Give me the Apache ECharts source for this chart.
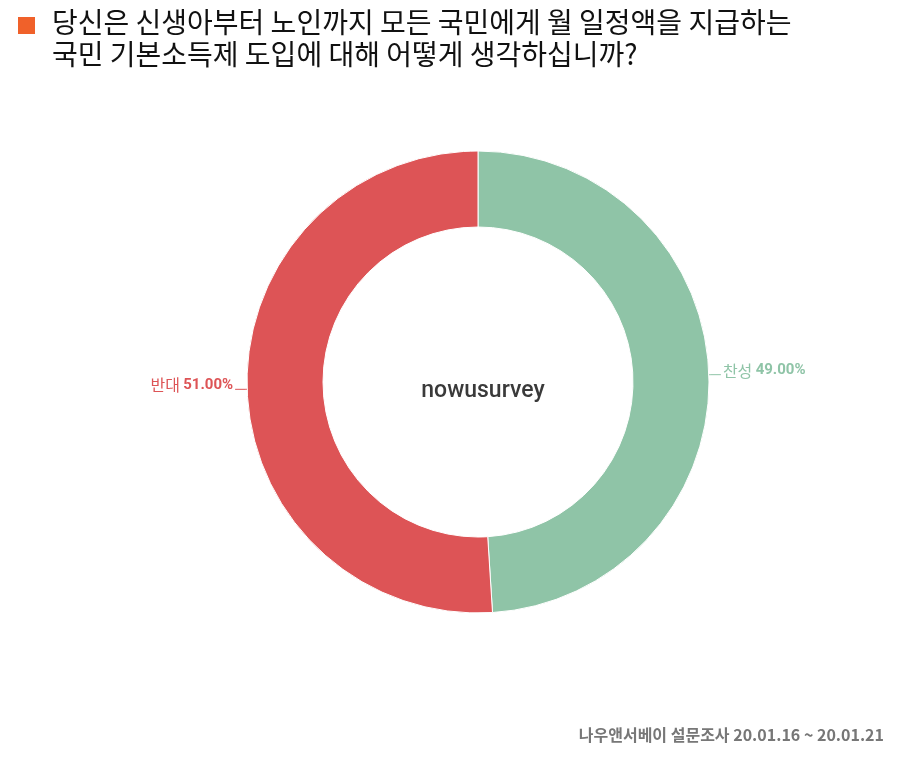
<!DOCTYPE html>
<html><head><meta charset="utf-8">
<script src="https://cdn.jsdelivr.net/npm/echarts@6/dist/echarts.min.js"></script>
<style>html,body{margin:0;padding:0;background:#fff}#c{width:903px;height:757px}</style>
</head><body><div id="c"></div>
<script>
const categories = ['찬성', '반대'];
const values = [49.00, 51.00];
const colors = ['#8fc4a7', '#dd5456'];
const titleLines = ['당신은 신생아부터 노인까지 모든 국민에게 월 일정액을 지급하는', '국민 기본소득제 도입에 대해 어떻게 생각하십니까?'];
const centerText = 'nowusurvey';
const footer = '나우앤서베이 설문조사 20.01.16 ~ 20.01.21';

const chart = echarts.init(document.getElementById('c'));
const font = '"Noto Sans CJK KR", "Noto Sans", sans-serif';
chart.setOption({
  animation: false,
  graphic: [
    {type: 'rect', shape: {x: 18, y: 17, width: 17, height: 17}, style: {fill: '#f0612a'}},
    {type: 'text', left: 52, top: 8, style: {text: titleLines[0], font: '28px ' + font, fill: '#111'}},
    {type: 'text', left: 52, top: 40, style: {text: titleLines[1], font: '28px ' + font, fill: '#111'}},
    {type: 'text', right: 19, top: 727, style: {text: footer, font: 'bold 16px ' + font, fill: '#777'}}
  ],
  title: {
    text: centerText, left: 478, top: 386, textAlign: 'center', textVerticalAlign: 'middle',
    textStyle: {fontFamily: 'Roboto, sans-serif', fontSize: 23, fontWeight: 500, color: '#3a3a3a'}
  },
  series: [{
    type: 'pie',
    center: [478, 382],
    radius: [155, 231],
    startAngle: 90,
    clockwise: true,
    avoidLabelOverlap: false,
    itemStyle: {borderColor: '#fff', borderWidth: 1},
    label: {
      show: true, position: 'outside', padding: [0, 0, 8, 0], distanceToLabelLine: 2,
      formatter: p => '{n|' + p.name + '} {v|' + p.value.toFixed(2) + '%}',
      rich: {
        n: {fontFamily: font, fontSize: 16},
        v: {fontFamily: 'Roboto, sans-serif', fontSize: 15, fontWeight: 'bold'}
      }
    },
    labelLine: {show: true, length: 2, length2: 10},
    data: categories.map((c, i) => ({
      name: c, value: values[i],
      itemStyle: {color: colors[i]},
      label: {color: colors[i]},
      labelLine: {lineStyle: {color: colors[i]}}
    }))
  }]
});
</script></body></html>
